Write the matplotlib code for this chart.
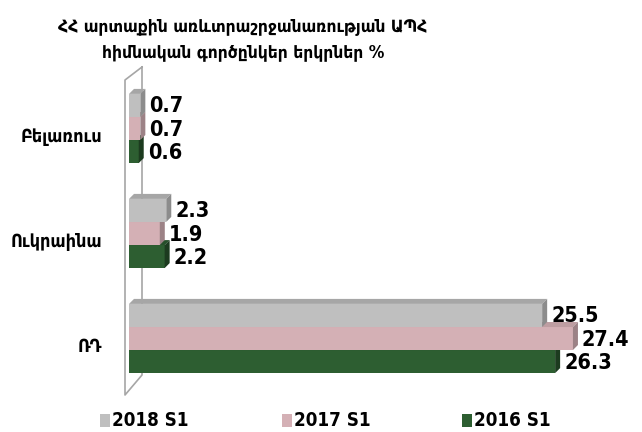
"""
3D-style horizontal bar chart: Armenia's main CIS trade partners, %
"""
import matplotlib.pyplot as plt
from matplotlib.patches import Polygon, Rectangle

plt.rcParams['font.family'] = ['DejaVu Sans']
plt.rcParams['font.stretch'] = 'condensed'
plt.rcParams['font.weight'] = 'bold'

countries = ["ՌԴ", "Ուկրաինա", "Բելառուս"]
series = ["2018 S1", "2017 S1", "2016 S1"]
values = {
    "2018 S1": [25.5, 2.3, 0.7],
    "2017 S1": [27.4, 1.9, 0.7],
    "2016 S1": [26.3, 2.2, 0.6],
}
# face, top, side
colors = {
    "2018 S1": ("#BFBFBF", "#A6A6A6", "#8C8C8C"),
    "2017 S1": ("#D4B0B5", "#BE9EA2", "#9C8286"),
    "2016 S1": ("#2D5E31", "#26502A", "#1C3B1F"),
}
offsets = {"2018 S1": 0.22, "2017 S1": 0.0, "2016 S1": -0.22}

W, H = 642, 432
fig = plt.figure(figsize=(W / 100, H / 100), dpi=100)

# axes placement in pixels
x0_px, x1_px = 129, 600
y_top_px, y_bot_px = 60, 400
ax = fig.add_axes([x0_px / W, 1 - y_bot_px / H, (x1_px - x0_px) / W, (y_bot_px - y_top_px) / H])
xmax = 29.07
ppx = (x1_px - x0_px) / xmax            # pixels per x unit
ppy = 105.0                              # pixels per category
ru_px = 338.5
ax.set_xlim(0, xmax)
ax.set_ylim(-(y_bot_px - ru_px) / ppy, (ru_px - y_top_px) / ppy)
ax.axis('off')


def px(xp, yp):
    return (xp - x0_px) / ppx, (ru_px - yp) / ppy


# wall
wall = "#A6A6A6"
fx_t, fy_t = px(125, 80)
fx_b, fy_b = px(125, 395)
bx_t, by_t = px(142, 67)
bx_b, by_b = px(142, 375)
ax.plot([bx_t, fx_t, fx_b, bx_b, bx_t], [by_t, fy_t, fy_b, by_b, by_t],
        color=wall, lw=1.2, clip_on=False, zorder=1)

bh = 0.219
dx = 5 / ppx
dy = 5 / ppy

order = ["2016 S1", "2017 S1", "2018 S1"]
for gi in range(len(countries)):
    for k, s in enumerate(order):
        v = values[s][gi]
        yc = gi + offsets[s]
        yb, yt = yc - bh / 2, yc + bh / 2
        face, top, side = colors[s]
        z = 2 + gi * 3 + k
        ax.barh(yc, v, height=bh, color=face, zorder=z)
        ax.add_patch(Polygon([(0, yt), (dx, yt + dy), (v + dx, yt + dy), (v, yt)],
                             closed=True, facecolor=top, edgecolor='none', zorder=z))
        ax.add_patch(Polygon([(v, yb), (v, yt), (v + dx, yt + dy), (v + dx, yb + dy)],
                             closed=True, facecolor=side, edgecolor='none', zorder=z))
        ax.text(v + dx + 4 / ppx, yc - 0.01, f"{v:.1f}", fontsize=15.5,
                va='center', ha='left', zorder=20)

for gi, c in enumerate(countries):
    ax.text((102 - x0_px) / ppx, gi - 0.08, c, fontsize=13, ha='right', va='center',
            clip_on=False)

fig.text(243 / W, 1 - 39 / H,
         "ՀՀ արտաքին առևտրաշրջանառության ԱՊՀ\nհիմնական գործընկեր երկրներ %",
         fontsize=12.5, ha='center', va='center', linespacing=1.6)

# legend
leg_x = [100, 282, 462]
for s, lx in zip(series, leg_x):
    fig.add_artist(Rectangle((lx / W, 1 - 427 / H), 10 / W, 13 / H,
                             transform=fig.transFigure, facecolor=colors[s][0],
                             edgecolor='none'))
    fig.text((lx + 12) / W, 1 - 420 / H, s, fontsize=13.5, ha='left', va='center')

plt.savefig('out.png', dpi=100)
